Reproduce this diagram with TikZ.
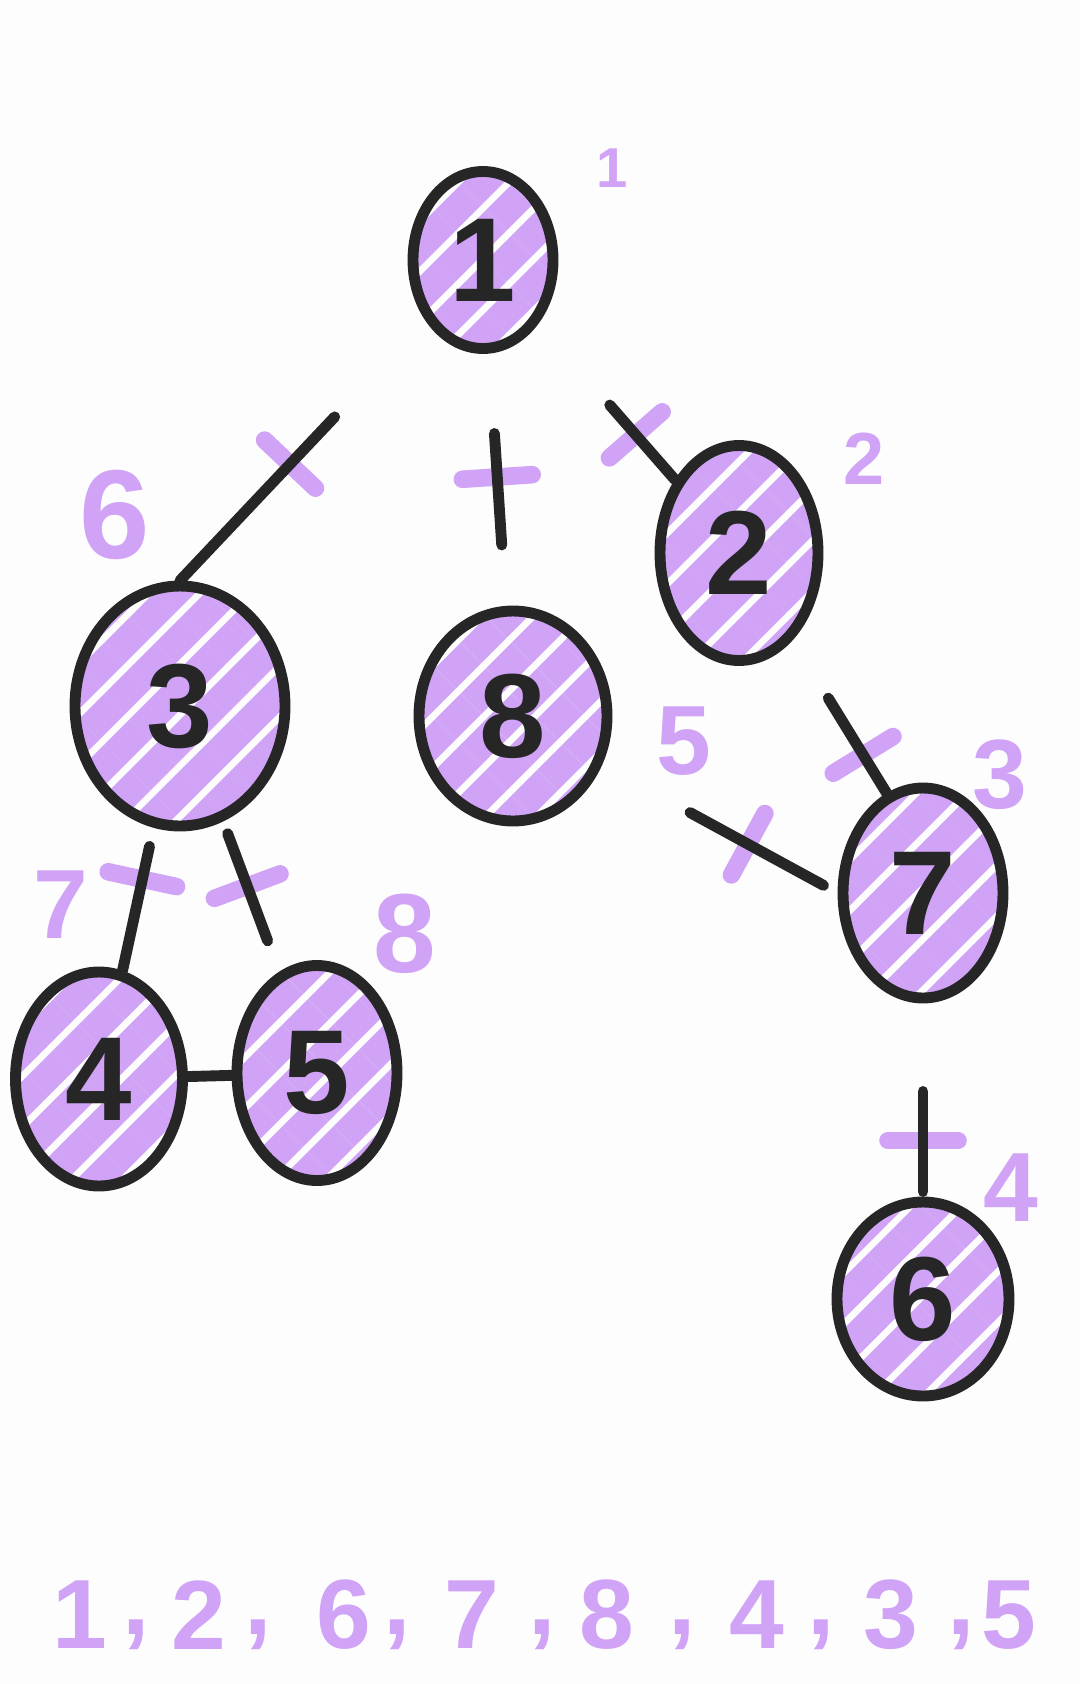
\documentclass[tikz,border=0pt]{standalone}
\usepackage{fontspec}
\setmainfont{Liberation Sans}
\usetikzlibrary{shapes.geometric,patterns.meta}
\definecolor{lilac}{HTML}{D0A3F7}
\definecolor{ink}{HTML}{262626}
\definecolor{paper}{HTML}{FDFDFD}
\tikzset{
  vertex/.style={ellipse,draw=ink,line width=3.1pt,inner sep=0pt,
    minimum width=16.5mm,minimum height=21mm,
    pattern={Lines[angle=45,distance=3.6mm,line width=2.9mm]},pattern color=lilac,
    font=\fontsize{34}{34}\selectfont\bfseries,text=ink},
  edge/.style={draw=ink,line width=3.1pt,line cap=round},
  tickmark/.style={draw=lilac,line width=5pt,line join=round,rectangle,
    minimum width=0pt,minimum height=7mm,inner sep=0pt,sloped},
  order/.style={text=lilac,font=\fontsize{28}{28}\selectfont\bfseries,inner sep=0pt},
}

\begin{document}
\begin{tikzpicture}[x=0.1mm,y=-0.1mm]
\fill[paper] (0,0) rectangle (1080,1684);
\useasboundingbox (0,0) rectangle (1080,1684);

% vertices
\node[vertex,minimum width=14mm,minimum height=17.7mm] (n1) at (483,260) {1};
\node[vertex,minimum width=15.8mm,minimum height=21.5mm] (n2) at (739,553) {2};
\node[vertex,minimum width=21mm,minimum height=24mm] (n3) at (180,706) {3};
\node[vertex,minimum width=18.8mm,minimum height=21mm] (n8) at (513,716) {8};
\node[vertex,minimum width=16mm,minimum height=21mm] (n7) at (923,893) {7};
\node[vertex,minimum width=16.7mm,minimum height=21.4mm] (n4) at (99,1079) {4};
\node[vertex,minimum width=16mm,minimum height=21.5mm] (n5) at (317,1073) {5};
\node[vertex,minimum width=17.2mm,minimum height=19.4mm] (n6) at (923,1299) {6};

% ticks on the tree edges
\foreach \a/\b/\p in {n1/n3.north/0.54, n1/n8/0.47, n1/n2/0.70, n2/n7.110/0.75,
    n8/n7.west/0.62, n3/n4/0.36, n3/n5/0.43, n7/n6/0.71}
  \path (\a) -- (\b) node[tickmark,pos=\p]{};

% edges
\foreach \a/\b/\s/\e in {n1/n3.north/12.3mm/0mm, n1/n8/7.1mm/6.1mm, n1/n2/9.9mm/0mm,
    n2/n7.110/6.8mm/0mm, n8/n7.west/10mm/1.6mm, n3/n4/1.9mm/0mm, n3/n5/1.3mm/3.3mm,
    n4/n5/0mm/0mm, n7/n6/8.8mm/0.5mm}
  \draw[edge,shorten <=\s,shorten >=\e] (\a) -- (\b);

% visiting order
\node[order,font=\fontsize{16}{16}\selectfont\bfseries] (o1) at (612,168) {1};
\node[order,font=\fontsize{21}{21}\selectfont\bfseries] (o2) at (864,459) {2};
\node[order] (o3) at (1000,775) {3};
\node[order] (o4) at (1011,1188) {4};
\node[order] (o5) at (684,741) {5};
\node[order,font=\fontsize{36}{36}\selectfont\bfseries] (o6) at (115,515) {6};
\node[order] (o7) at (61,905) {7};
\node[order,font=\fontsize{32}{32}\selectfont\bfseries] (o8) at (405,934) {8};

% the list
\foreach \x/\d in {80/1, 199/2, 344/6, 472/7, 607/8, 757/4, 891/3, 1009/5}
  \node[order] (d\d) at (\x,1615) {\d};
\foreach \x [count=\i] in {136, 258, 397, 542, 682, 821, 961}
  \node[order] (c\i) at (\x,1635) {,};
\end{tikzpicture}
\end{document}
